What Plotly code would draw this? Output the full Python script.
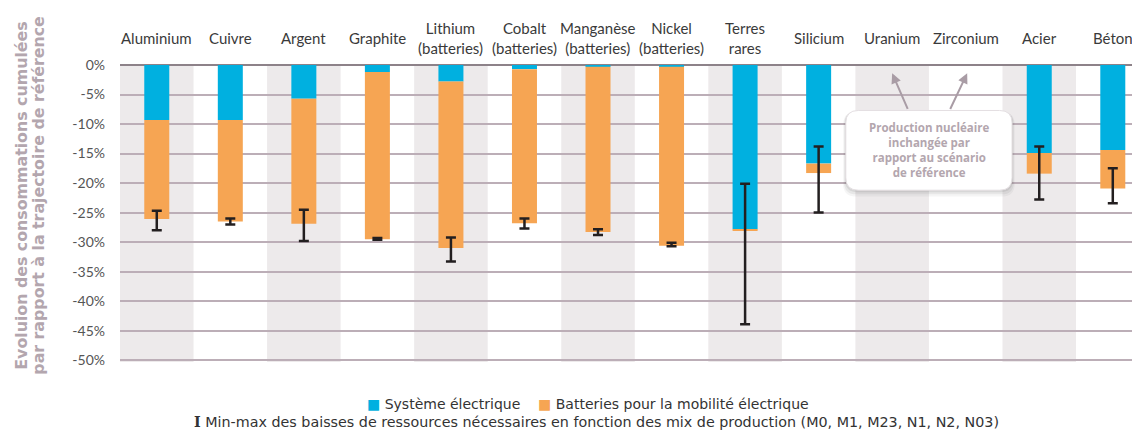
import plotly.graph_objects as go

# ── DATA ─────────────────────────────────────────────────────────────────────
categories = ['Aluminium', 'Cuivre', 'Argent', 'Graphite', 'Lithium', 'Cobalt',
              'Manganèse', 'Nickel', 'Terres rares', 'Silicium', 'Uranium',
              'Zirconium', 'Acier', 'Béton']
labels = ['Aluminium', 'Cuivre', 'Argent', 'Graphite', 'Lithium<br>(batteries)',
          'Cobalt<br>(batteries)', 'Manganèse<br>(batteries)', 'Nickel<br>(batteries)',
          'Terres<br>rares', 'Silicium', 'Uranium', 'Zirconium', 'Acier', 'Béton']

# contributions (% change vs reference), stacked downward
systeme_elec = [-9.3, -9.3, -5.7, -1.2, -2.8, -0.7, -0.3, -0.3, -27.8, -16.7, None, None, -14.9, -14.4]
batteries    = [-16.8, -17.2, -21.2, -28.3, -28.2, -26.1, -28.0, -30.3, -0.2, -1.6, None, None, -3.5, -6.5]

# min-max range across production mixes
range_top    = [-24.7, -26.0, -24.5, -29.3, -29.2, -26.0, -27.8, -30.1, -20.1, -13.8, None, None, -13.8, -17.5]
range_bottom = [-28.0, -27.0, -29.8, -29.6, -33.3, -27.7, -28.8, -30.7, -43.9, -25.0, None, None, -22.8, -23.4]

y_ticks = list(range(-50, 1, 5))

# ── STYLE ────────────────────────────────────────────────────────────────────
BLUE = '#00B0E0'
ORANGE = '#F6A553'
BAND = '#EDEAEB'
GRID = '#BCAEB7'
MAUVE = '#B3A6AE'
FONT = 'Lato'

fig = go.Figure()

fig.add_trace(go.Bar(x=categories, y=systeme_elec, name='Système électrique',
                     marker=dict(color=BLUE, line=dict(width=0)), width=0.34))
fig.add_trace(go.Bar(x=categories, y=batteries, name='Batteries pour la mobilité électrique',
                     marker=dict(color=ORANGE, line=dict(width=0)), width=0.34))

spans = [None if t is None else round(t - b, 2) for t, b in zip(range_top, range_bottom)]
fig.add_trace(go.Scatter(
    x=categories, y=range_top, mode='markers',
    marker=dict(size=1, color='rgba(0,0,0,0)'),
    error_y=dict(type='data', symmetric=False, array=[0] * len(spans),
                 arrayminus=spans, color='#231F20', thickness=2.5, width=5),
    showlegend=False, hoverinfo='skip',
))

# alternating background bands
shapes = []
for i in range(0, len(categories), 2):
    shapes.append(dict(type='rect', xref='x', yref='paper', x0=i - 0.5, x1=i + 0.5,
                       y0=0, y1=1, fillcolor=BAND, line=dict(width=0), layer='below'))


def rounded(x0, x1, yt, yb, rx, ry):
    return (f'M {x0+rx},{yt} L {x1-rx},{yt} Q {x1},{yt} {x1},{yt-ry} '
            f'L {x1},{yb+ry} Q {x1},{yb} {x1-rx},{yb} L {x0+rx},{yb} '
            f'Q {x0},{yb} {x0},{yb+ry} L {x0},{yt-ry} Q {x0},{yt} {x0+rx},{yt} Z')


# callout box for nuclear materials (between Uranium and Zirconium)
bx0, bx1, byt, byb = 9.37, 11.63, -7.7, -21.2
for k, a in [(3, 0.05), (2, 0.07), (1, 0.09)]:
    shapes.append(dict(type='path', xref='x', yref='y', layer='above',
                       path=rounded(bx0 - 0.012 * k, bx1 + 0.012 * k, byt - 0.1 * k,
                                    byb - 0.35 * k, 0.17, 2.1),
                       fillcolor=f'rgba(60,50,60,{a})', line=dict(width=0)))
shapes.append(dict(type='path', xref='x', yref='y', layer='above',
                   path=rounded(bx0, bx1, byt, byb, 0.17, 2.1),
                   fillcolor='white', line=dict(color='#E4DFE2', width=1)))

annotations = []
for c, lab in zip(categories, labels):
    annotations.append(dict(x=c, xref='x', y=1, yref='paper', yanchor='middle',
                            yshift=27, text=lab, showarrow=False,
                            font=dict(family=FONT, size=15, color='#3A3A3A')))

annotations.append(dict(x=10.5, y=(byt + byb) / 2, xref='x', yref='y', showarrow=False,
                        text='<b>Production nucléaire<br>inchangée par<br>rapport au scénario<br>de référence</b>',
                        font=dict(family='Open Sans', size=11.5, color=MAUVE)))
for hx, tx in [(10.0, 10.22), (11.02, 10.78)]:
    annotations.append(dict(x=hx, y=-1.4, xref='x', yref='y', axref='x', ayref='y',
                            ax=tx, ay=byt, text='', showarrow=True, arrowhead=2,
                            arrowsize=1, arrowwidth=2, arrowcolor='#A99CA5'))

# y axis title (two separate lines)
for txt, xs in [('Evoluion des consommations cumulées', -98),
                ('par rapport à la trajectoire de référence', -81)]:
    annotations.append(dict(x=0, xref='paper', xshift=xs, y=0.56, yref='paper',
                            xanchor='center', yanchor='middle', textangle=-90,
                            text=f'<b>{txt}</b>', showarrow=False,
                            font=dict(family='DejaVu Sans', size=15.8, color=MAUVE)))

# legend rows
nb = '\u00a0'
annotations.append(dict(
    x=0.459, y=-0.176, xref='paper', yref='paper', showarrow=False,
    text=(f"<span style='color:{BLUE}'>■</span> Système électrique{nb*4}"
          f"<span style='color:{ORANGE}'>■</span> Batteries pour la mobilité électrique"),
    font=dict(family='DejaVu Sans', size=14, color='#333333')))
annotations.append(dict(
    x=0.467, y=-0.236, xref='paper', yref='paper', showarrow=False,
    text=("<span style='font-family:DejaVu Serif'><b>I</b></span> Min-max des baisses de ressources "
          "nécessaires en fonction des mix de production (M0, M1, M23, N1, N2, N03)"),
    font=dict(family='DejaVu Sans', size=14.3, color='#333333')))

# page body has an 8px margin: figure sized/offset to fill the window from there
fig.update_layout(
    width=1132, height=422,
    margin=dict(l=112, r=0, t=57, b=68),
    barmode='relative',
    showlegend=False,
    paper_bgcolor='white',
    plot_bgcolor='white',
    shapes=shapes,
    annotations=annotations,
    font=dict(family=FONT),
)
fig.update_xaxes(range=[-0.5, 13.37], showticklabels=False, showgrid=False,
                 showline=False, zeroline=False, ticks='')
fig.update_yaxes(range=[-50.3, 0], tickvals=y_ticks, ticktext=[f'{v}%' for v in y_ticks],
                 showgrid=True, gridcolor=GRID, gridwidth=1.5,
                 zeroline=True, zerolinecolor='#8D8289', zerolinewidth=2,
                 showline=False, ticks='', ticklabelstandoff=14,
                 tickfont=dict(family=FONT, size=14, color='#555555'))

fig.write_html('out.html')
